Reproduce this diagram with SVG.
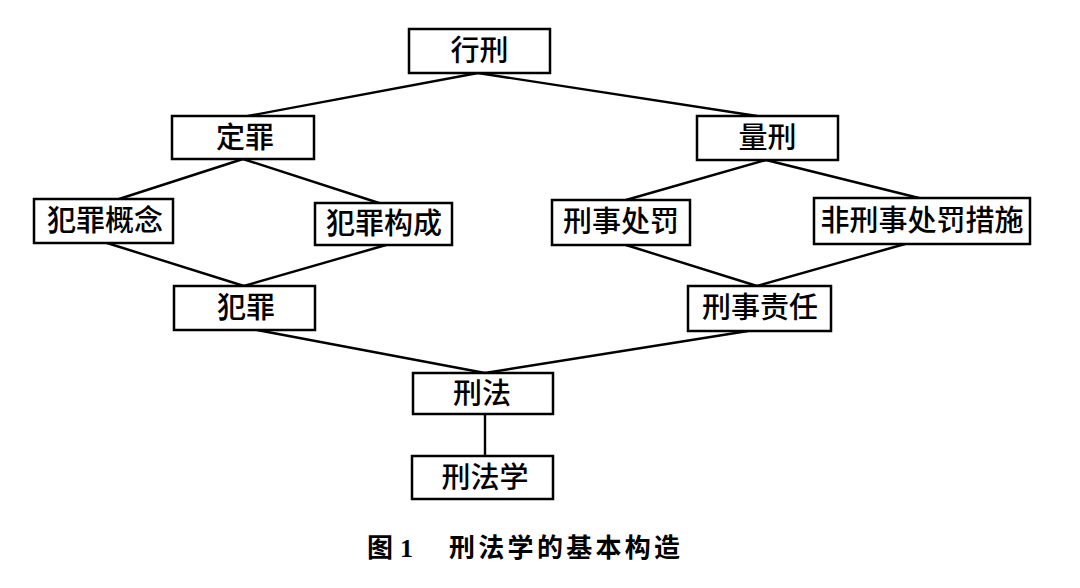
<svg xmlns="http://www.w3.org/2000/svg" width="1080" height="588" viewBox="0 0 1080 588">
<style>
.box{fill:#fff;stroke:#000;stroke-width:2.5}
.lbl{font-family:"Noto Sans CJK SC","Noto Sans CJK TC",sans-serif;font-size:29px;font-weight:500;fill:#000;text-anchor:middle}
.conn line{stroke:#000;stroke-width:2.4;stroke-linecap:round}
.cap{font-family:"Noto Sans CJK SC",sans-serif;font-size:26px;font-weight:700;fill:#000}
</style>
<rect width="1080" height="588" fill="#fff"/>
<g id="connectors" class="conn">
<line x1="478" y1="73" x2="248" y2="116"/>
<line x1="478" y1="73" x2="757" y2="116"/>
<line x1="243" y1="159" x2="119" y2="199"/>
<line x1="243" y1="159" x2="379" y2="203"/>
<line x1="107" y1="243" x2="244" y2="286"/>
<line x1="386" y1="245" x2="244" y2="286"/>
<line x1="766" y1="160" x2="626" y2="200"/>
<line x1="766" y1="160" x2="919" y2="198"/>
<line x1="626" y1="245" x2="757" y2="286"/>
<line x1="905" y1="244" x2="757" y2="286"/>
<line x1="257" y1="330" x2="485" y2="373"/>
<line x1="748" y1="331" x2="485" y2="373"/>
<line x1="485" y1="414" x2="485" y2="456"/>
</g>
<g id="n-xingxing"><rect class="box" x="409" y="29" width="141" height="44"/><text class="lbl" x="479.5" y="61">行刑</text></g>
<g id="n-dingzui"><rect class="box" x="172" y="116" width="142" height="43"/><text class="lbl" x="245" y="148">定罪</text></g>
<g id="n-liangxing"><rect class="box" x="697" y="116" width="141" height="44"/><text class="lbl" x="767.5" y="148">量刑</text></g>
<g id="n-fanzuigainian"><rect class="box" x="34" y="199" width="139" height="44"/><text class="lbl" x="105" y="231">犯罪概念</text></g>
<g id="n-fanzuigoucheng"><rect class="box" x="315" y="203" width="137" height="42"/><text class="lbl" x="384" y="234">犯罪构成</text></g>
<g id="n-xingshichufa"><rect class="box" x="552" y="200" width="138" height="45"/><text class="lbl" x="621" y="232">刑事处罚</text></g>
<g id="n-feixingshi"><rect class="box" x="814" y="198" width="216" height="46"/><text class="lbl" x="922" y="231">非刑事处罚措施</text></g>
<g id="n-fanzui"><rect class="box" x="174" y="286" width="141" height="44"/><text class="lbl" x="246" y="318">犯罪</text></g>
<g id="n-xingshizeren"><rect class="box" x="688" y="286" width="143" height="45"/><text class="lbl" x="760" y="318">刑事责任</text></g>
<g id="n-xingfa"><rect class="box" x="413" y="373" width="140" height="41"/><text class="lbl" x="482" y="404">刑法</text></g>
<g id="n-xingfaxue"><rect class="box" x="412" y="456" width="141" height="43"/><text class="lbl" x="485" y="488">刑法学</text></g>
<g id="caption">
<text class="cap" x="367" y="557">图<tspan x="400" font-family="Liberation Serif">1</tspan><tspan x="449" letter-spacing="3.3">刑法学的基本构造</tspan></text>
</g>
</svg>
